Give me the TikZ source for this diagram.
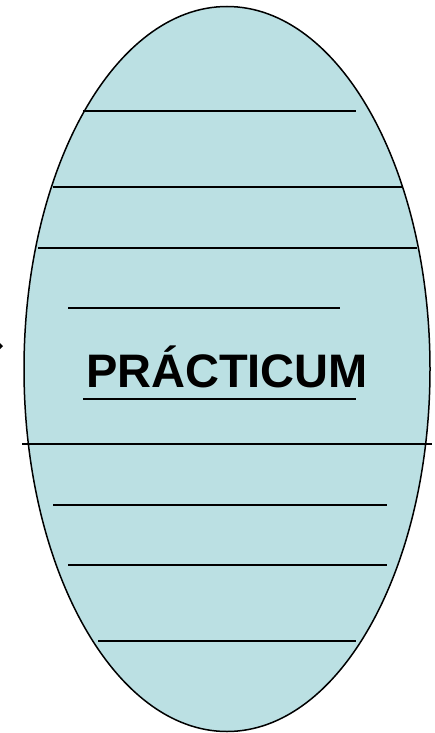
\documentclass[tikz,border=0pt]{standalone}
\usepackage{fontspec}
\setmainfont{Liberation Sans}
\usetikzlibrary{shapes.geometric}
\definecolor{fillblue}{RGB}{187,224,227}
\begin{document}
\begin{tikzpicture}[x=1pt,y=-1pt,
  rule/.style={draw=black,line width=1.8pt},
  shell/.style={draw=black,line width=1.5pt,fill=fillblue}]
\useasboundingbox (0,0) rectangle (435,733);
\node[shell,ellipse,inner sep=0pt,minimum width=406pt,minimum height=725pt] (oval) at (227,369) {};
\node[font=\bfseries\fontsize{47}{50}\selectfont,inner sep=0pt,anchor=base] (title) at (227,387) {PRÁCTICUM};
\coordinate (a1) at (83,111);  \coordinate (b1) at (356,111);
\coordinate (a2) at (53,187);  \coordinate (b2) at (402,187);
\coordinate (a3) at (38,248);  \coordinate (b3) at (417,248);
\coordinate (a4) at (68,308);  \coordinate (b4) at (340,308);
\coordinate (a5) at (83,399);  \coordinate (b5) at (356,399);
\coordinate (a6) at (22,444);  \coordinate (b6) at (432,444);
\coordinate (a7) at (53,505);  \coordinate (b7) at (387,505);
\coordinate (a8) at (68,565);  \coordinate (b8) at (387,565);
\coordinate (a9) at (98,641);  \coordinate (b9) at (356,641);
\foreach \i in {1,...,9} \draw[rule] (a\i) -- (b\i);
\coordinate (m1) at (0,343); \coordinate (m2) at (3,346); \coordinate (m3) at (0,349);
\fill[black] (m1) -- (m2) -- (m3) -- cycle;
\end{tikzpicture}
\end{document}
